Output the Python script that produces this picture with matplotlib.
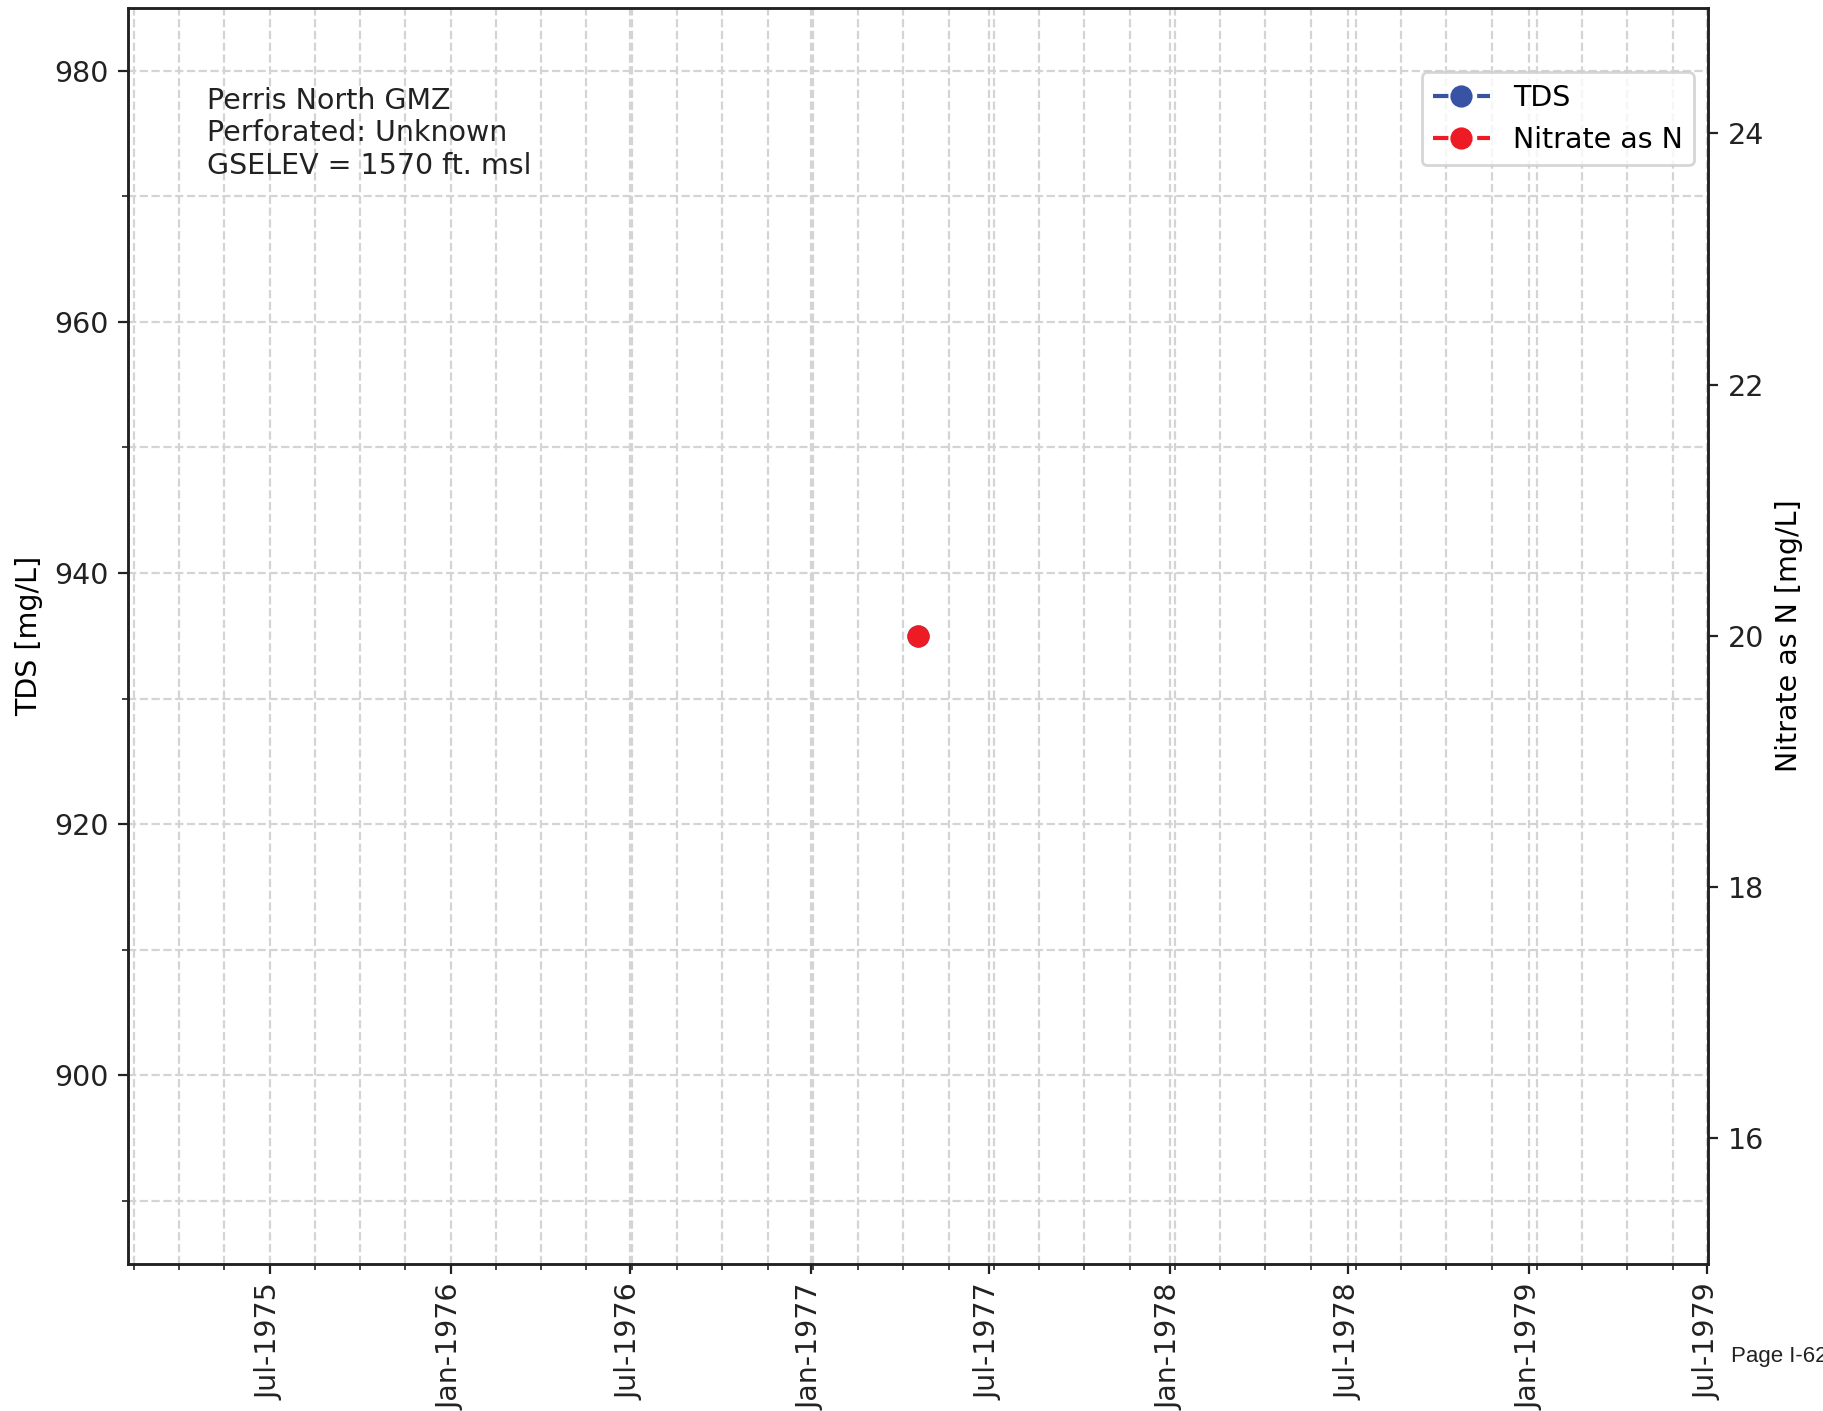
import datetime as dt
import matplotlib
matplotlib.use('Agg')
import matplotlib.pyplot as plt
import matplotlib.dates as mdates
from matplotlib.ticker import AutoMinorLocator

# Data (single sample)
sample_dates = [dt.datetime(1977, 4, 20)]
tds_values = [935.0]
nitrate_values = [20.0]

info_lines = ['Perris North GMZ', 'Perforated: Unknown', 'GSELEV = 1570 ft. msl']

tds_color = '#3953a4'
no3_color = '#ed1c24'

plt.rcParams['font.size'] = 10.25

fig = plt.figure(figsize=(1823 / 200, 1411 / 200), dpi=200)
ax = fig.add_axes([0.0702, 0.1044, 0.8668, 0.890])
ax2 = ax.twinx()

ax.plot(sample_dates, tds_values, '--o', color=tds_color, markersize=7, label='TDS')
ax2.plot(sample_dates, nitrate_values, '--o', color=no3_color, markersize=7, label='Nitrate as N')

ax.set_ylim(885, 985)
ax2.set_ylim(15, 25)

ax.xaxis.set_major_locator(mdates.MonthLocator(bymonth=[1, 7]))
ax.xaxis.set_major_formatter(mdates.DateFormatter('%b-%Y'))
ax.xaxis.set_minor_locator(AutoMinorLocator())
ax.yaxis.set_minor_locator(AutoMinorLocator(2))
plt.setp(ax.get_xticklabels(), rotation=90)

ax.grid(which='both', linestyle='--', color='#d4d4d4', linewidth=0.8)
ax.set_axisbelow(True)

for a in (ax, ax2):
    for s in a.spines.values():
        s.set_linewidth(0.9)
        s.set_color('#222222')
    a.tick_params(which='both', colors='#222222')

ax.set_ylabel('TDS [mg/L]')
ax2.set_ylabel('Nitrate as N [mg/L]')

ax.text(0.05, 0.937, '\n'.join(info_lines), transform=ax.transAxes, va='top', ha='left', color='#222222')

h1, l1 = ax.get_legend_handles_labels()
h2, l2 = ax2.get_legend_handles_labels()
ax2.legend(h1 + h2, l1 + l2, loc='upper right', bbox_to_anchor=(1.0, 0.96))

fig.text(0.9495, 0.035, 'Page I-62', fontsize=8, family=['Liberation Sans Narrow', 'Liberation Sans'], color='#222222')

fig.savefig('out.png', dpi=200)
